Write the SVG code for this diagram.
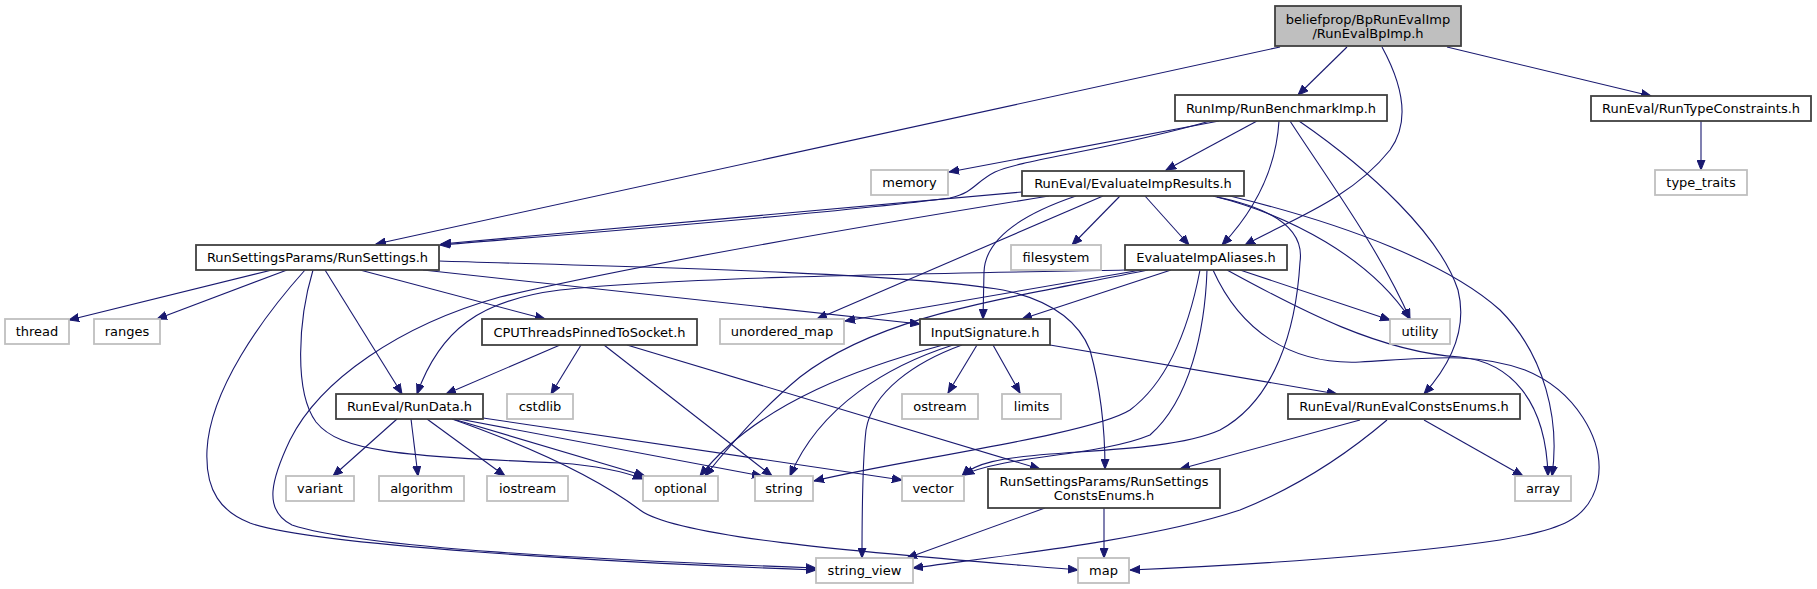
<svg xmlns="http://www.w3.org/2000/svg" width="1817" height="589" viewBox="0 0 1817 589">
<style>
.n rect{fill:#fff;stroke:#404040;stroke-width:1.8}
.x rect{fill:#fff;stroke:#bfbfbf;stroke-width:1.8}
.r rect{fill:#bfbfbf;stroke:#404040;stroke-width:1.8}
text{font-family:"DejaVu Sans","Liberation Sans",sans-serif;font-size:13px;fill:#000;text-anchor:middle}
#edges path{fill:none;stroke:#191970;stroke-width:1.1;marker-end:url(#a)}
</style>
<defs>
<marker id="a" markerUnits="userSpaceOnUse" markerWidth="11" markerHeight="9" refX="10" refY="4" orient="auto" viewBox="0 0 11 8">
<path d="M0,0 L10,4 L0,8 z" fill="#191970" stroke="#191970" stroke-width="1"/>
</marker>
</defs>
<rect width="1817" height="589" fill="#fff"/>
<g id="edges">
<path d="M1280,47 L376,244"/>
<path d="M1347,47 L1298,95"/>
<path d="M1382,47 C1400,80 1412,120 1390,150 C1350,200 1290,220 1245,245"/>
<path d="M1447,47 L1651,96"/>
<path d="M1701,121 L1701,170"/>
<path d="M1219,121 L949,172"/>
<path d="M1210,121 C1110,150 1020,160 995,172 C975,182 975,192 950,198 C820,215 560,235 440,245"/>
<path d="M1257,121 L1166,170"/>
<path d="M1279,121 C1276,170 1255,210 1222,245"/>
<path d="M1290,121 C1325,175 1380,250 1410,319"/>
<path d="M1299,121 C1370,170 1440,235 1458,290 C1468,330 1450,365 1424,394"/>
<path d="M1022,192 L441,244"/>
<path d="M1049,196 C900,220 650,262 500,297 C400,325 320,380 290,440 C272,478 262,510 292,525 C360,548 600,560 816,568"/>
<path d="M1076,196 C1020,215 985,240 984,272 L983,319"/>
<path d="M1103,196 L817,319"/>
<path d="M1120,196 L1072,245"/>
<path d="M1145,196 L1189,245"/>
<path d="M1213,196 C1290,215 1370,258 1410,319"/>
<path d="M1230,196 C1350,225 1450,265 1500,310 C1545,355 1560,420 1552,476"/>
<path d="M1217,197 C1270,208 1305,228 1300,262 C1296,330 1275,400 1220,430 C1180,448 1100,450 1050,454 C1000,458 975,463 962,476"/>
<path d="M272,270 L69,320"/>
<path d="M287,270 L157,319"/>
<path d="M305,270 C262,318 210,390 207,450 C205,492 222,512 250,523 C310,545 600,562 816,570"/>
<path d="M313,270 C298,320 294,392 316,422 C340,452 400,456 560,463 C600,466 625,472 643,479"/>
<path d="M325,270 L402,394"/>
<path d="M360,270 L545,319"/>
<path d="M423,270 L920,324"/>
<path d="M439,261 C600,266 900,272 1003,290 C1050,300 1078,320 1090,350 C1101,390 1105,430 1105,469"/>
<path d="M1125,270 C980,273 680,276 560,290 C480,300 440,330 417,394"/>
<path d="M1141,270 L845,321"/>
<path d="M1148,270 C1000,300 880,315 800,377 C760,410 730,445 705,476"/>
<path d="M1171,270 L1022,319"/>
<path d="M1200,270 C1190,322 1170,380 1130,410 C1090,435 900,460 814,481"/>
<path d="M1207,270 C1205,330 1190,400 1150,435 C1100,456 1000,456 964,475"/>
<path d="M1240,270 L1390,320"/>
<path d="M1227,270 C1300,310 1380,352 1460,357 C1510,362 1546,400 1548,476"/>
<path d="M1213,270 C1240,330 1290,365 1360,362 C1430,358 1475,352 1525,370 C1575,390 1605,440 1598,480 C1590,520 1560,530 1500,540 C1400,555 1250,565 1130,570"/>
<path d="M943,345 C870,365 760,400 700,476"/>
<path d="M953,345 C890,365 820,405 790,476"/>
<path d="M962,345 C915,362 872,392 866,430 C862,465 862,520 862,558"/>
<path d="M977,345 L948,393"/>
<path d="M993,345 L1020,393"/>
<path d="M1050,345 L1337,394"/>
<path d="M560,345 L446,394"/>
<path d="M581,345 L551,394"/>
<path d="M604,345 L772,476"/>
<path d="M627,345 L1040,469"/>
<path d="M397,419 L333,476"/>
<path d="M411,419 L418,476"/>
<path d="M427,419 L505,476"/>
<path d="M453,419 L645,476"/>
<path d="M459,419 L762,476"/>
<path d="M483,418 L902,480"/>
<path d="M452,419 C540,450 600,480 640,510 C680,540 900,555 1078,570"/>
<path d="M1360,420 L1180,469"/>
<path d="M1387,420 C1340,460 1290,490 1240,510 C1150,540 1000,556 913,568"/>
<path d="M1424,420 L1523,476"/>
<path d="M1045,508 L907,558"/>
<path d="M1104,508 L1104,558"/>
</g>
<g id="n_top" class="r"><rect x="1275" y="6" width="186" height="40"/><text x="1368" y="23.5">beliefprop/BpRunEvalImp</text><text x="1368" y="38">/RunEvalBpImp.h</text></g>
<g id="n_bench" class="n"><rect x="1175" y="95" width="212" height="26"/><text x="1281" y="112.5">RunImp/RunBenchmarkImp.h</text></g>
<g id="n_rtc" class="n"><rect x="1591" y="96" width="220" height="25"/><text x="1701" y="113">RunEval/RunTypeConstraints.h</text></g>
<g id="n_memory" class="x"><rect x="871" y="170" width="77" height="25"/><text x="909.5" y="187">memory</text></g>
<g id="n_results" class="n"><rect x="1022" y="171" width="222" height="25"/><text x="1133" y="188">RunEval/EvaluateImpResults.h</text></g>
<g id="n_typetraits" class="x"><rect x="1655" y="170" width="92" height="25"/><text x="1701" y="187">type_traits</text></g>
<g id="n_runsettings" class="n"><rect x="196" y="245" width="243" height="25"/><text x="317.5" y="262">RunSettingsParams/RunSettings.h</text></g>
<g id="n_filesystem" class="x"><rect x="1011" y="245" width="90" height="25"/><text x="1056" y="262">filesystem</text></g>
<g id="n_aliases" class="n"><rect x="1125" y="245" width="162" height="25"/><text x="1206" y="262">EvaluateImpAliases.h</text></g>
<g id="n_thread" class="x"><rect x="5" y="319" width="64" height="25"/><text x="37" y="336">thread</text></g>
<g id="n_ranges" class="x"><rect x="94" y="319" width="66" height="25"/><text x="127" y="336">ranges</text></g>
<g id="n_cpu" class="n"><rect x="482" y="319" width="215" height="26"/><text x="589.5" y="336.5">CPUThreadsPinnedToSocket.h</text></g>
<g id="n_umap" class="x"><rect x="720" y="319" width="124" height="25"/><text x="782" y="336">unordered_map</text></g>
<g id="n_input" class="n"><rect x="920" y="319" width="130" height="26"/><text x="985" y="336.5">InputSignature.h</text></g>
<g id="n_utility" class="x"><rect x="1390" y="319" width="60" height="25"/><text x="1420" y="336">utility</text></g>
<g id="n_rundata" class="n"><rect x="336" y="394" width="147" height="25"/><text x="409.5" y="411">RunEval/RunData.h</text></g>
<g id="n_cstdlib" class="x"><rect x="507" y="394" width="66" height="25"/><text x="540" y="411">cstdlib</text></g>
<g id="n_ostream" class="x"><rect x="902" y="394" width="76" height="25"/><text x="940" y="411">ostream</text></g>
<g id="n_limits" class="x"><rect x="1002" y="394" width="59" height="25"/><text x="1031.5" y="411">limits</text></g>
<g id="n_rece" class="n"><rect x="1288" y="394" width="232" height="25"/><text x="1404" y="411">RunEval/RunEvalConstsEnums.h</text></g>
<g id="n_variant" class="x"><rect x="286" y="476" width="68" height="25"/><text x="320" y="493">variant</text></g>
<g id="n_algorithm" class="x"><rect x="379" y="476" width="85" height="25"/><text x="421.5" y="493">algorithm</text></g>
<g id="n_iostream" class="x"><rect x="487" y="476" width="81" height="25"/><text x="527.5" y="493">iostream</text></g>
<g id="n_optional" class="x"><rect x="643" y="476" width="75" height="25"/><text x="680.5" y="493">optional</text></g>
<g id="n_string" class="x"><rect x="755" y="476" width="58" height="25"/><text x="784" y="493">string</text></g>
<g id="n_vector" class="x"><rect x="902" y="476" width="62" height="25"/><text x="933" y="493">vector</text></g>
<g id="n_rsce" class="n"><rect x="988" y="469" width="232" height="39"/><text x="1104" y="486">RunSettingsParams/RunSettings</text><text x="1104" y="500">ConstsEnums.h</text></g>
<g id="n_array" class="x"><rect x="1515" y="476" width="56" height="25"/><text x="1543" y="493">array</text></g>
<g id="n_sv" class="x"><rect x="816" y="558" width="97" height="25"/><text x="864.5" y="575">string_view</text></g>
<g id="n_map" class="x"><rect x="1078" y="558" width="51" height="25"/><text x="1103.5" y="575">map</text></g>
</svg>
